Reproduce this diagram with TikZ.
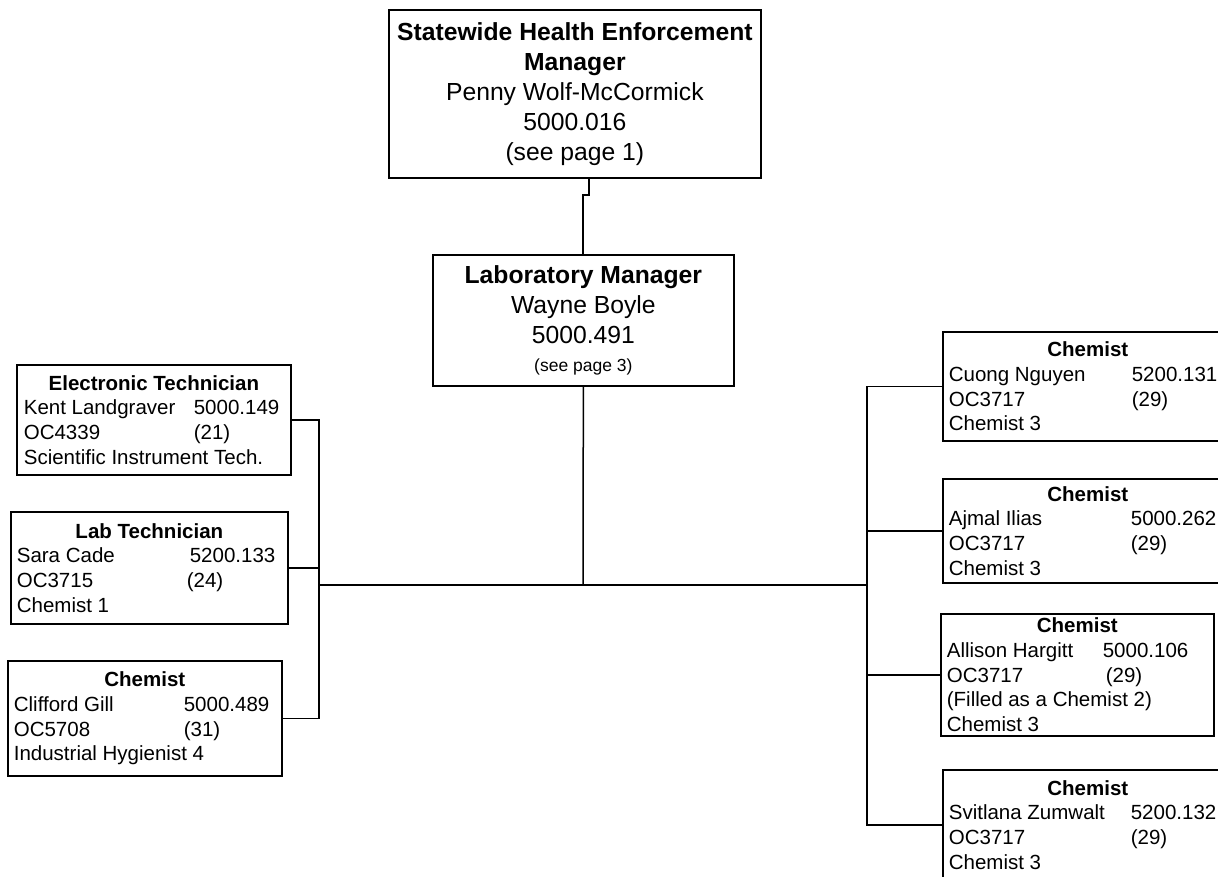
\documentclass[tikz,border=0pt]{standalone}
\usepackage{fontspec}
\setmainfont{Liberation Sans}
\newcommand\bigset{\fontsize{24.7pt}{30pt}\selectfont}
\newcommand\smallset{\fontsize{20.5pt}{24.7pt}\selectfont}
\newcommand\orgrow[3]{\makebox[#1pt][l]{#2}#3}
\newcommand\orgtitle[1]{\makebox[\linewidth]{\bfseries #1}}
\tikzset{
  box/.style={draw, line width=1.7pt, inner sep=0pt, anchor=north west},
  conn/.style={line width=1.5pt},
}
\begin{document}
\begin{tikzpicture}[x=1pt,y=-1pt]
\useasboundingbox (0,0) rectangle (1218,877);
\clip (0,0) rectangle (1218,877);
\fill[white] (0,0) rectangle (1218,877);

% top manager
\node[box, minimum width=372pt, minimum height=168pt] (top) at (388,9)
  {\parbox{360pt}{\bigset\centering
   \textbf{Statewide Health Enforcement}\\
   \textbf{Manager}\\
   Penny Wolf-McCormick\\
   5000.016\\
   (see page 1)}};

% laboratory manager
\node[box, minimum width=301pt, minimum height=131pt] (lab) at (432,254)
  {\parbox{290pt}{\bigset\centering
   \textbf{Laboratory Manager}\\
   Wayne Boyle\\
   5000.491\par
   \fontsize{17.5pt}{28pt}\selectfont (see page 3)}};

% left boxes
\node[box, minimum width=274pt, minimum height=110pt] (elec) at (16,364)
  {\parbox{260pt}{\smallset
   \orgtitle{Electronic Technician}\\
   \orgrow{170}{Kent Landgraver}{5000.149}\\
   \orgrow{170}{OC4339}{(21)}\\
   Scientific Instrument Tech.}};

\node[box, minimum width=277pt, minimum height=112pt] (labt) at (10,511)
  {\parbox{265pt}{\smallset
   \orgtitle{Lab Technician}\\
   \orgrow{173}{Sara Cade}{5200.133}\\
   \orgrow{170}{OC3715}{(24)}\\
   Chemist 1}};

\node[box, minimum width=274pt, minimum height=115pt] (gill) at (7,660)
  {\parbox{262pt}{\smallset
   \orgtitle{Chemist}\\
   \orgrow{170}{Clifford Gill}{5000.489}\\
   \orgrow{170}{OC5708}{(31)}\\
   Industrial Hygienist 4}};

% right boxes
\node[box, minimum width=290pt, minimum height=109pt] (c1) at (942,331)
  {\parbox{278pt}{\smallset
   \orgtitle{Chemist}\\
   \orgrow{183}{Cuong Nguyen}{5200.131}\\
   \orgrow{183}{OC3717}{(29)}\\
   Chemist 3}};

\node[box, minimum width=290pt, minimum height=104pt] (c2) at (942,478)
  {\parbox{278pt}{\smallset
   \orgtitle{Chemist}\\
   \orgrow{182}{Ajmal Ilias}{5000.262}\\
   \orgrow{182}{OC3717}{(29)}\\
   Chemist 3}};

\node[box, minimum width=273pt, minimum height=122pt] (c3) at (940,613)
  {\parbox{261pt}{\smallset
   \orgtitle{Chemist}\\
   \orgrow{156}{Allison Hargitt}{5000.106}\\
   \orgrow{159}{OC3717}{(29)}\\
   (Filled as a Chemist 2)\\
   Chemist 3}};

\node[box, minimum width=290pt, minimum height=110pt] (c4) at (942,769)
  {\parbox{278pt}{\smallset
   \orgtitle{Chemist}\\
   \orgrow{182}{Svitlana Zumwalt}{5200.132}\\
   \orgrow{182}{OC3717}{(29)}\\
   Chemist 3}};

% connector points
\coordinate (tj) at (589,195);
\coordinate (lj) at (583,195);
\coordinate (hb) at (583,585);
\coordinate (lb) at (319,585);
\coordinate (rb) at (867,585);

\draw[conn] (tj |- top.south) -- (tj) -- (lj) -- (lj |- lab.north);
\draw[conn] (lab.south) -- (hb);
\draw[conn] (lb) -- (rb);
\draw[conn] (elec.east) -- (elec.east -| lb) -- (gill.east -| lb) -- (gill.east);
\draw[conn] (labt.east) -- (labt.east -| lb);
\draw[conn] (c1.west) -- (c1.west -| rb) -- (c4.west -| rb) -- (c4.west);
\draw[conn] (c2.west) -- (c2.west -| rb);
\draw[conn] (c3.west) -- (c3.west -| rb);
\end{tikzpicture}
\end{document}
